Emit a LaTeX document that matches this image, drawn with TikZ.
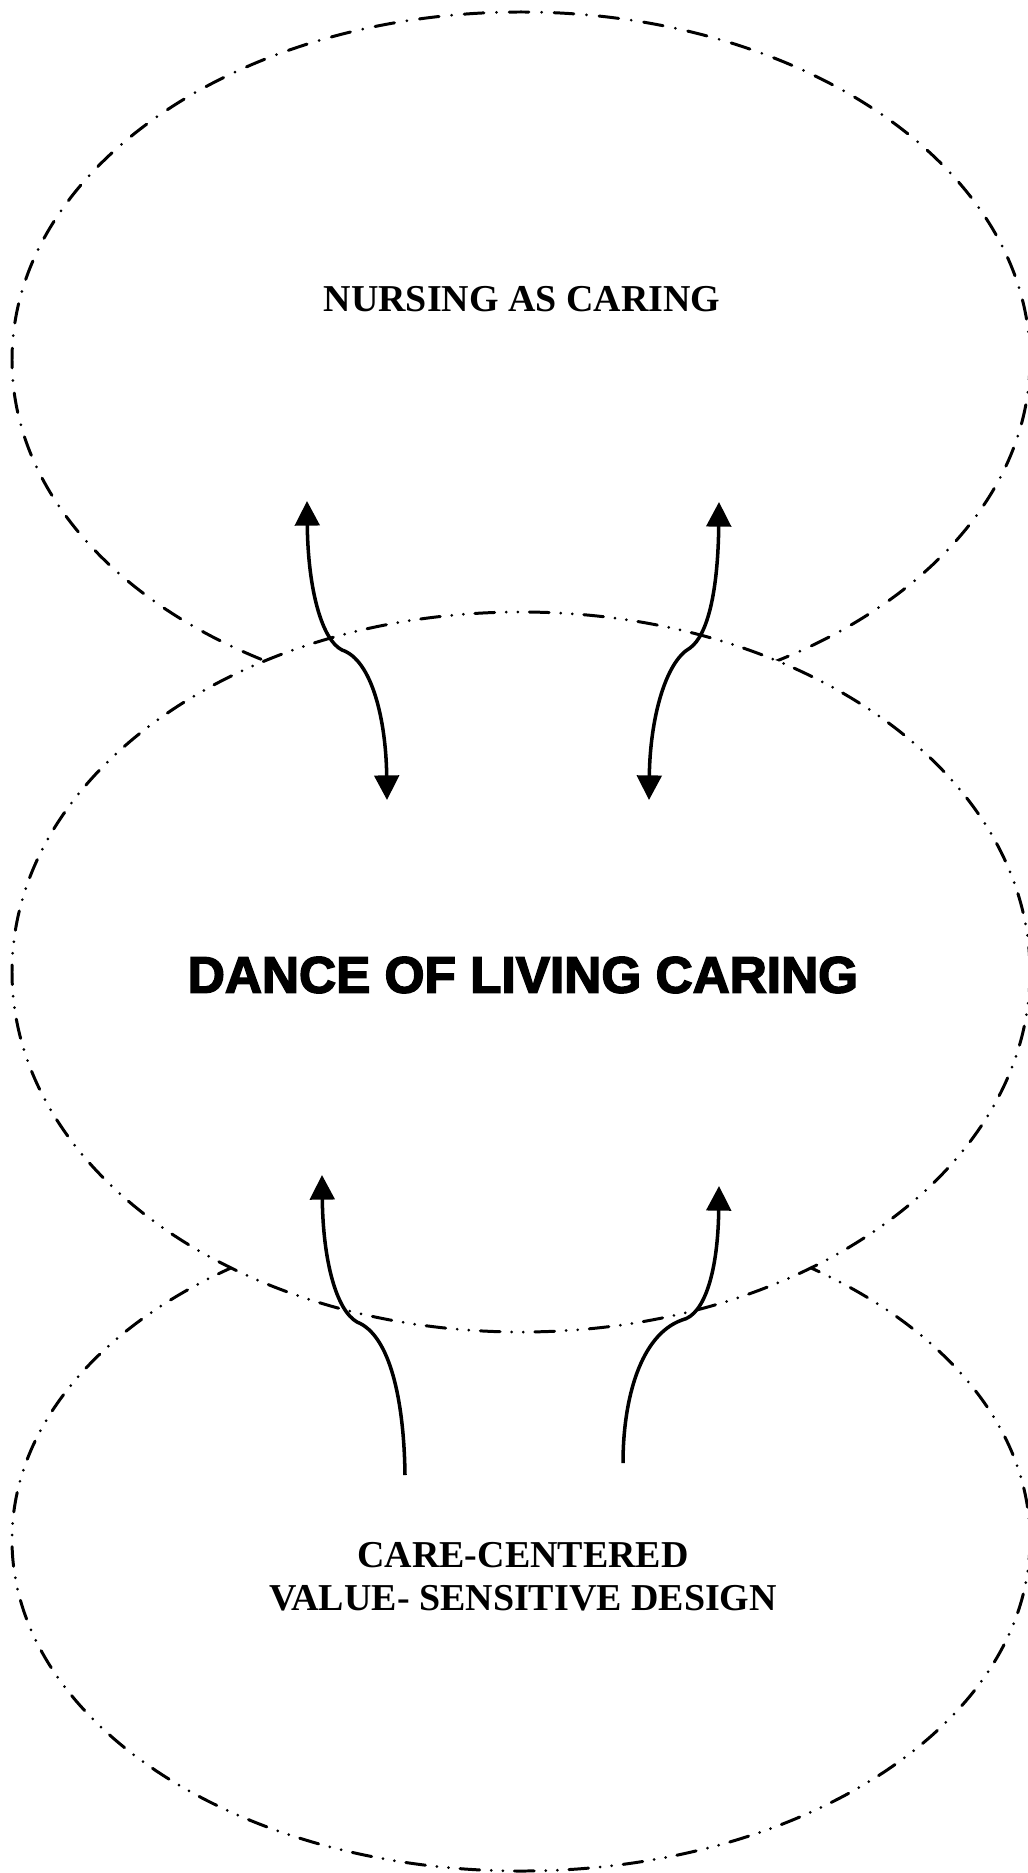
\documentclass[tikz,border=0pt]{standalone}
\usepackage{fontspec}
\setmainfont{Liberation Serif}
\newfontfamily\heavyfont[FakeBold=3]{Liberation Sans Bold}
\usetikzlibrary{arrows.meta}

\begin{document}
\begin{tikzpicture}[x=0.01cm, y=-0.01cm, line width=1pt, >={Triangle[width=7pt, length=7pt]},
  dashdot/.style={line width=0.85pt, line cap=round, dash pattern=on 5.6pt off 3.6pt on 0pt off 3.6pt},
  dashdotdot/.style={line width=0.85pt, line cap=round, dash pattern=on 5.6pt off 3.3pt on 0pt off 3.3pt on 0pt off 3.3pt}]
  \useasboundingbox (0,0) rectangle (1028,1873);

  % 1) The three fields
  \draw[dashdot] (521,360) ellipse [x radius=509, y radius=348];
  \draw[dashdotdot] (521,1540) ellipse [x radius=509, y radius=331];
  \filldraw[fill=white, dashdotdot] (521,972) ellipse [x radius=509, y radius=360];

  \node (nursing) at (522,299) {\fontsize{10.8}{13}\selectfont\bfseries NURSING AS CARING};
  \node (dance) at (523,975) {\heavyfont\fontsize{14.6}{17}\selectfont DANCE OF LIVING CARING};
  \node[align=center, font=\fontsize{10.8}{12.2}\selectfont\bfseries] (design) at (523,1577) {CARE-CENTERED\\VALUE- SENSITIVE DESIGN};

  % 2) Arrow ends
  \coordinate (ul-top) at (307,501);
  \coordinate (ul-bot) at (387,800);
  \coordinate (ur-top) at (719,502);
  \coordinate (ur-bot) at (649,800);
  \coordinate (ll-top) at (322,1175);
  \coordinate (ll-bot) at (405,1475);
  \coordinate (lr-top) at (719,1186);
  \coordinate (lr-bot) at (623,1463);

  % 3) Exchange between the fields
  \draw[<->] (ul-top) .. controls (308,590) and (322,640) .. (342,650) .. controls (372,660) and (386,720) .. (ul-bot);
  \draw[<->] (ur-top) .. controls (718,590) and (708,635) .. (690,648) .. controls (665,662) and (650,720) .. (ur-bot);
  \draw[<-] (ll-top) .. controls (323,1260) and (336,1310) .. (357,1322) .. controls (390,1335) and (404,1400) .. (ll-bot);
  \draw[<-] (lr-top) .. controls (718,1270) and (705,1315) .. (682,1320) .. controls (640,1335) and (623,1400) .. (lr-bot);
\end{tikzpicture}
\end{document}
